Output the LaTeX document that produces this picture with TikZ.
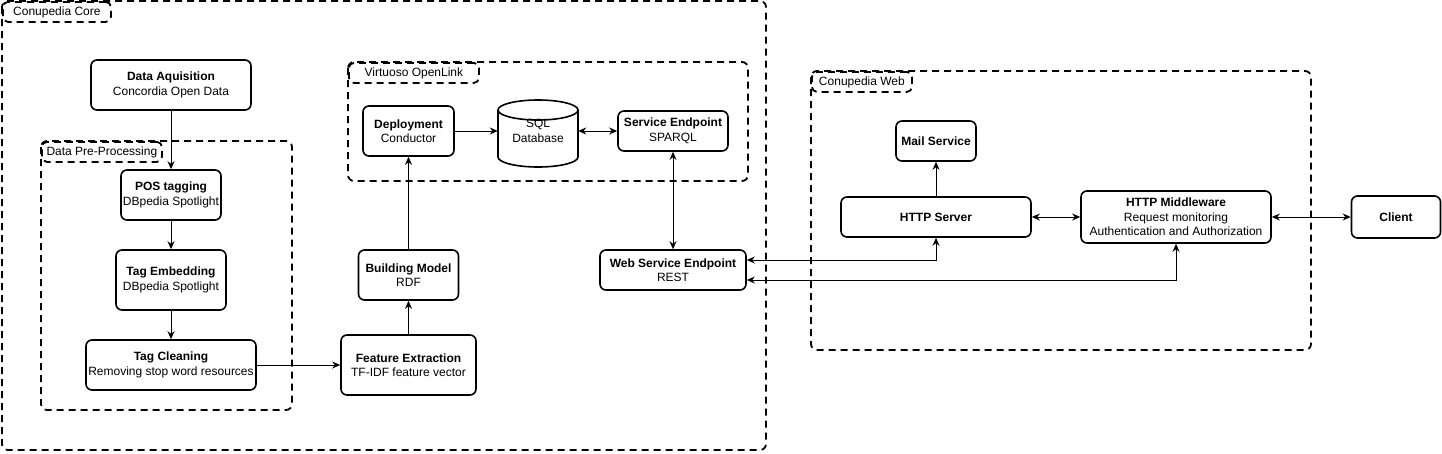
\documentclass[tikz,border=0pt]{standalone}
\usepackage{fontspec}
\setmainfont{Liberation Sans}
\usetikzlibrary{arrows.meta}
\begin{document}
\begin{tikzpicture}[x=1pt,y=-1pt,
  every node/.style={font=\fontsize{12}{14.5}\selectfont},
  box/.style={draw, line width=1.6pt, rounded corners=6pt, align=center, inner sep=0pt},
  grp/.style={draw, line width=1.8pt, dash pattern=on 7pt off 5pt, rounded corners=6pt},
  tab/.style={draw, line width=1.8pt, dash pattern=on 7pt off 5pt, rounded corners=5pt, anchor=north west, inner sep=0pt, minimum height=20pt},
  cyl/.style={line width=1.6pt},
  tip/.style={Stealth[length=8pt,width=7pt]},
  conn/.style={line width=1pt, -{Stealth[length=8pt,width=7pt]}},
  both/.style={line width=1pt, {Stealth[length=8pt,width=7pt]}-{Stealth[length=8pt,width=7pt]}}
]
\useasboundingbox (0,0) rectangle (1442,453);

% containers
\draw[grp] (2,1) rectangle (766,450);
\node[tab, minimum width=108pt] (coretab) at (2,1) {Conupedia Core};
\draw[grp] (41,141) rectangle (292,410);
\node[tab, minimum width=120pt] (pretab) at (41,141) {Data Pre-Processing};
\draw[grp] (348,62) rectangle (748,181);
\node[tab, minimum width=130pt] (virttab) at (348,62) {Virtuoso OpenLink};
\draw[grp] (811,71) rectangle (1311,350);
\node[tab, minimum width=100pt] (webtab) at (811,71) {Conupedia Web};

% boxes
\node[box, minimum width=160pt, minimum height=50pt] (da) at (171,85) {\textbf{Data Aquisition}\\Concordia Open Data};
\node[box, minimum width=100pt, minimum height=50pt] (pos) at (171,195) {\textbf{POS tagging}\\DBpedia Spotlight};
\node[box, minimum width=110pt, minimum height=60pt] (emb) at (171,280) {\textbf{Tag Embedding}\\DBpedia Spotlight};
\node[box, minimum width=170pt, minimum height=50pt] (clean) at (171,365) {\textbf{Tag Cleaning}\\Removing stop word resources};
\node[box, minimum width=135pt, minimum height=60pt] (feat) at (408.5,365) {\textbf{Feature Extraction}\\TF-IDF feature vector};
\node[box, minimum width=100pt, minimum height=50pt] (bm) at (408.5,275) {\textbf{Building Model}\\RDF};
\node[box, minimum width=91pt, minimum height=50pt] (dep) at (408.5,131) {\textbf{Deployment}\\Conductor};
\node[box, minimum width=110pt, minimum height=40pt] (sep) at (673,131) {\textbf{Service Endpoint}\\SPARQL};
\node[box, minimum width=146pt, minimum height=40pt] (wse) at (673,270) {\textbf{Web Service Endpoint}\\REST};
\node[box, minimum width=80pt, minimum height=40pt] (mail) at (936,141) {\textbf{Mail Service}};
\node[box, minimum width=190pt, minimum height=40pt] (https) at (936,217) {\textbf{HTTP Server}};
\node[box, minimum width=190pt, minimum height=52pt] (mw) at (1176,217) {\textbf{HTTP Middleware}\\Request monitoring\\Authentication and Authorization};
\node[box, minimum width=89pt, minimum height=42pt] (client) at (1396,217) {\textbf{Client}};

% cylinder
\draw[cyl] (498,110) -- (498,157) arc[start angle=180, end angle=360, x radius=40pt, y radius=10pt] -- (578,110);
\draw[cyl] (538,110) ellipse[x radius=40pt, y radius=10pt];
\node[align=center, inner sep=0pt, minimum width=80pt, minimum height=67pt] (sql) at (538,131) {SQL\\Database};

% connectors
\draw[conn] (da) -- (pos);
\draw[conn] (pos) -- (emb);
\draw[conn] (emb) -- (clean);
\draw[conn] (clean) -- (feat);
\draw[conn] (feat) -- (bm);
\draw[conn] (bm) -- (dep);
\draw[conn] (dep) -- (sql.west);
\draw[both] (sql.east) -- (sep);
\draw[both] (sep) -- (wse);
\draw[both] (https.south) |- ([yshift=10pt]wse.east);
\draw[both] (mw.south) |- ([yshift=-10pt]wse.east);
\draw[conn] (https) -- (mail);
\draw[both] (https) -- (mw);
\draw[both] (mw) -- (client);
\end{tikzpicture}
\end{document}
